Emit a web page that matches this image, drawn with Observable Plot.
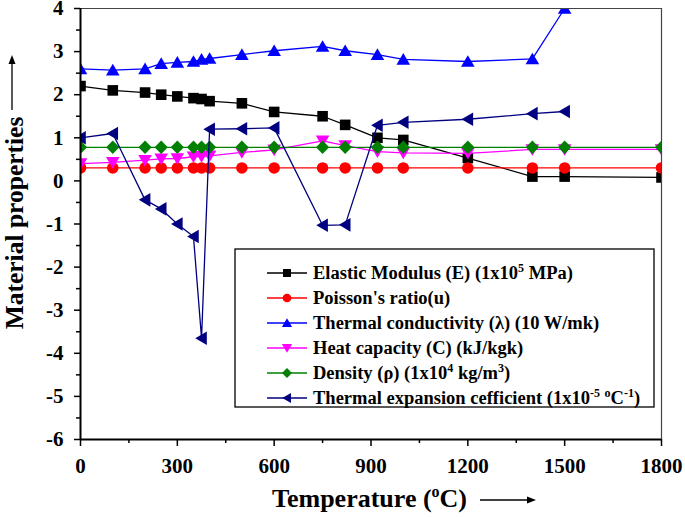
<!DOCTYPE html>
<html>
<head>
<meta charset="utf-8">
<script src="https://cdn.jsdelivr.net/npm/d3@7"></script>
<script src="https://cdn.jsdelivr.net/npm/@observablehq/plot@0.6"></script>
<style>
  html, body { margin: 0; padding: 0; background: #fff; }
  svg text { font-family: "Liberation Serif", "Times New Roman", serif; font-weight: bold; }
</style>
</head>
<body>
<div id="chart"></div>
<script>
// ---- data ----
const temps = [0, 100, 200, 250, 300, 350, 375, 400, 500, 600, 750, 820, 920, 1000, 1200, 1400, 1500, 1800];
const tempsTo1500 = [0, 100, 200, 250, 300, 350, 375, 400, 500, 600, 750, 820, 920, 1000, 1200, 1400, 1500];
const elasticModulus = [2.2, 2.1, 2.05, 2.0, 1.96, 1.92, 1.9, 1.85, 1.8, 1.6, 1.5, 1.3, 1.0, 0.95, 0.53, 0.1, 0.1, 0.08];
const poissonRatio = [0.3, 0.3, 0.3, 0.3, 0.3, 0.3, 0.3, 0.3, 0.3, 0.3, 0.3, 0.3, 0.3, 0.3, 0.3, 0.3, 0.3, 0.3];
const thermalConductivity = [2.6, 2.57, 2.6, 2.72, 2.75, 2.77, 2.82, 2.84, 2.93, 3.02, 3.12, 3.02, 2.93, 2.82, 2.77, 2.83, 4.0];
const heatCapacity = [0.40, 0.43, 0.48, 0.51, 0.52, 0.56, 0.57, 0.58, 0.66, 0.72, 0.93, 0.82, 0.68, 0.65, 0.64, 0.73, 0.73, 0.73];
const density = [0.78, 0.78, 0.78, 0.78, 0.78, 0.78, 0.78, 0.78, 0.78, 0.78, 0.78, 0.78, 0.78, 0.78, 0.78, 0.78, 0.78, 0.78];
const thermalExpansion = [1.0, 1.1, -0.44, -0.65, -1.0, -1.29, -3.65, 1.2, 1.21, 1.23, -1.03, -1.02, 1.29, 1.36, 1.43, 1.56, 1.61];

const xTicks = [0, 300, 600, 900, 1200, 1500, 1800];
const xMinorTicks = [150, 450, 750, 1050, 1350, 1650];
const yTicks = [-6, -5, -4, -3, -2, -1, 0, 1, 2, 3, 4];
const yMinorTicks = [-5.5, -4.5, -3.5, -2.5, -1.5, -0.5, 0.5, 1.5, 2.5, 3.5];

// ---- marker shapes ----
const symSquare = {draw(c) { const s = 5.3; c.rect(-s, -s, 2 * s, 2 * s); }};
const symCircle = {draw(c) { c.moveTo(5.8, 0); c.arc(0, 0, 5.8, 0, 2 * Math.PI); }};
const symUp = {draw(c) { c.moveTo(0, -6.3); c.lineTo(6.8, 5.3); c.lineTo(-6.8, 5.3); c.closePath(); }};
const symDown = {draw(c) { c.moveTo(0, 6.3); c.lineTo(6.8, -5.3); c.lineTo(-6.8, -5.3); c.closePath(); }};
const symDiamond = {draw(c) { c.moveTo(0, -6.8); c.lineTo(6.6, 0); c.lineTo(0, 6.8); c.lineTo(-6.6, 0); c.closePath(); }};
const symLeft = {draw(c) { c.moveTo(-6.3, 0); c.lineTo(5.3, -6.8); c.lineTo(5.3, 6.8); c.closePath(); }};

const series = [
  {name: "E", xs: temps, ys: elasticModulus, color: "#000000", symbol: symSquare},
  {name: "nu", xs: temps, ys: poissonRatio, color: "#ff0000", symbol: symCircle},
  {name: "k", xs: tempsTo1500, ys: thermalConductivity, color: "#0000ff", symbol: symUp},
  {name: "C", xs: temps, ys: heatCapacity, color: "#ff00ff", symbol: symDown},
  {name: "rho", xs: temps, ys: density, color: "#008000", symbol: symDiamond},
  {name: "alpha", xs: tempsTo1500, ys: thermalExpansion, color: "#000080", symbol: symLeft}
];

const dataMarks = [];
for (const s of series) {
  const rows = s.xs.map((x, i) => ({x, y: s.ys[i]}));
  dataMarks.push(Plot.line(rows, {x: "x", y: "y", stroke: s.color, strokeWidth: 1.3, clip: true}));
  dataMarks.push(Plot.dot(rows, {x: "x", y: "y", fill: s.color, stroke: "none", symbol: s.symbol, r: 5, clip: true}));
}

const chart = Plot.plot({
  width: 685,
  height: 517,
  marginLeft: 80,
  marginRight: 24,
  marginTop: 8,
  marginBottom: 78,
  style: {fontFamily: "'Liberation Serif', 'Times New Roman', serif", fontWeight: "bold", color: "#000", background: "#fff", overflow: "visible"},
  x: {domain: [0, 1800]},
  y: {domain: [-6, 4]},
  marks: [
    ...dataMarks,
    Plot.ruleY([4], {stroke: "#444", strokeWidth: 1.2}),
    Plot.ruleX([1800], {stroke: "#444", strokeWidth: 1.2}),
    Plot.ruleX([0], {stroke: "#000", strokeWidth: 2}),
    Plot.ruleY([-6], {stroke: "#000", strokeWidth: 2}),
    Plot.axisX({ticks: xTicks, tickSize: 7, tickPadding: 12, strokeWidth: 1.5, fontSize: 21, fontWeight: "bold", tickFormat: d => String(d), label: null}),
    Plot.axisX({ticks: xMinorTicks, tickSize: 4, strokeWidth: 1.5, tickFormat: () => "", label: null}),
    Plot.axisY({ticks: yTicks, tickSize: 6, tickPadding: 11, strokeWidth: 1.5, fontSize: 21, fontWeight: "bold", tickFormat: d => String(d), label: null}),
    Plot.axisY({ticks: yMinorTicks, tickSize: 4, strokeWidth: 1.5, tickFormat: () => "", label: null})
  ]
});

document.getElementById("chart").appendChild(chart);

// ---- axis titles and legend ----
const svg = d3.select(chart);

// Y title
svg.append("text")
  .attr("transform", "translate(23,223) rotate(-90)")
  .attr("text-anchor", "middle")
  .attr("font-size", 25.5)
  .attr("fill", "#000")
  .text("Material properties");
svg.append("line").attr("x1", 12).attr("x2", 12).attr("y1", 110).attr("y2", 62).attr("stroke", "#000").attr("stroke-width", 1.3);
svg.append("path").attr("d", "M12,55 L8.5,64 L15.5,64 Z").attr("fill", "#000");

// X title
const xt = svg.append("text")
  .attr("x", 272).attr("y", 507)
  .attr("text-anchor", "start")
  .attr("font-size", 26)
  .attr("fill", "#000");
xt.append("tspan").text("Temperature (");
xt.append("tspan").attr("font-size", 16).attr("dy", -10).text("o");
xt.append("tspan").attr("dy", 10).text("C)");
svg.append("line").attr("x1", 480).attr("x2", 528).attr("y1", 500).attr("y2", 500).attr("stroke", "#000").attr("stroke-width", 1.3);
svg.append("path").attr("d", "M536,500 L527,496.5 L527,503.5 Z").attr("fill", "#000");

// Legend
const legendItems = [
  {parts: [["Elastic Modulus (E) (1x10"], ["5", "sup"], [" MPa)"]]},
  {parts: [["Poisson's ratio(u)"]]},
  {parts: [["Thermal conductivity (λ) (10 W/mk)"]]},
  {parts: [["Heat capacity (C) (kJ/kgk)"]]},
  {parts: [["Density (ρ) (1x10"], ["4", "sup"], [" kg/m"], ["3", "sup"], [")"]]},
  {parts: [["Thermal expansion cefficient (1x10"], ["-5", "sup"], [" "], ["o", "sup"], ["C"], ["-1", "sup"], [")"]]}
];
const lg = svg.append("g");
lg.append("rect").attr("x", 235).attr("y", 249).attr("width", 419).attr("height", 158)
  .attr("fill", "#fff").attr("stroke", "#000").attr("stroke-width", 1.3);
legendItems.forEach((item, i) => {
  const s = series[i];
  const cy = 273 + i * 25;
  lg.append("line").attr("x1", 267).attr("x2", 307).attr("y1", cy).attr("y2", cy).attr("stroke", s.color).attr("stroke-width", 1.3);
  lg.append("path").attr("d", d3.symbol().type(s.symbol)()).attr("transform", `translate(287,${cy}) scale(0.75)`).attr("fill", s.color);
  const t = lg.append("text").attr("x", 313).attr("y", cy + 6).attr("text-anchor", "start").attr("font-size", 18.5).attr("fill", "#000");
  let shifted = false;
  for (const [str, kind] of item.parts) {
    const ts = t.append("tspan").text(str);
    if (kind === "sup") {
      ts.attr("font-size", 12).attr("dy", shifted ? 0 : -7);
      shifted = true;
    } else if (shifted) {
      ts.attr("dy", 7);
      shifted = false;
    }
  }
});
</script>
</body>
</html>
